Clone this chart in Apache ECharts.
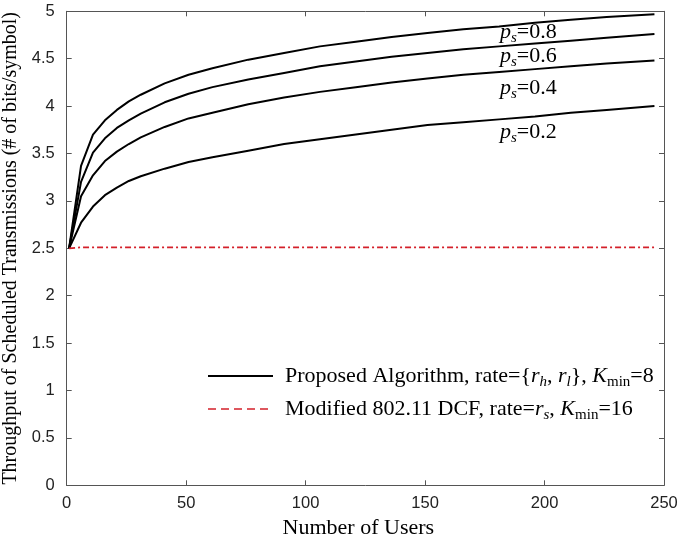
<!DOCTYPE html>
<html>
<head>
<meta charset="utf-8">
<script src="https://cdn.jsdelivr.net/npm/echarts@6/dist/echarts.min.js"></script>
<style>html,body{margin:0;padding:0;background:#fff}#c{width:682px;height:535px}</style>
</head>
<body>
<div id="c"></div>
<script>
// x positions (number of users) at which curves were read
var users = [1, 6, 11, 16, 21, 26, 31, 41, 51, 61, 76, 91, 106, 121, 136, 151, 166, 181, 196, 211, 226, 246];
var ps08 = [2.5, 3.37, 3.70, 3.85, 3.96, 4.05, 4.12, 4.24, 4.33, 4.40, 4.49, 4.56, 4.63, 4.68, 4.73, 4.77, 4.81, 4.84, 4.88, 4.91, 4.94, 4.97];
var ps06 = [2.5, 3.20, 3.51, 3.66, 3.77, 3.85, 3.92, 4.04, 4.13, 4.20, 4.28, 4.35, 4.42, 4.47, 4.52, 4.56, 4.60, 4.63, 4.66, 4.69, 4.72, 4.76];
var ps04 = [2.5, 3.05, 3.27, 3.42, 3.52, 3.60, 3.67, 3.78, 3.87, 3.93, 4.02, 4.09, 4.15, 4.20, 4.25, 4.29, 4.33, 4.36, 4.39, 4.42, 4.45, 4.48];
var ps02 = [2.5, 2.77, 2.94, 3.06, 3.14, 3.21, 3.26, 3.34, 3.41, 3.46, 3.53, 3.60, 3.65, 3.70, 3.75, 3.80, 3.83, 3.86, 3.89, 3.93, 3.96, 4.00];
var dcf = [2.5, 2.51, 2.51, 2.51, 2.51, 2.51, 2.51, 2.51, 2.51, 2.51, 2.51, 2.51, 2.51, 2.51, 2.51, 2.51, 2.51, 2.51, 2.51, 2.51, 2.51, 2.51];
var psLabels = ['0.8', '0.6', '0.4', '0.2'];
var xTicks = {min: 0, max: 250, interval: 50};
var yTicks = {min: 0, max: 5, interval: 0.5};

function pairs(ys) { return users.map(function (u, i) { return [u, ys[i]]; }); }

var serif = 'Liberation Serif';
var sans = 'Liberation Sans';
var axisCol = '#555';
var red = '#d4202a';

var rich = {
  i: {fontFamily: serif, fontSize: 22, fontStyle: 'italic', lineHeight: 26, color: '#000'},
  n: {fontFamily: serif, fontSize: 22, lineHeight: 26, color: '#000'},
  si: {fontFamily: serif, fontSize: 15, fontStyle: 'italic', lineHeight: 14, padding: [12, 0, 0, 0], color: '#000'},
  sn: {fontFamily: serif, fontSize: 15, lineHeight: 14, padding: [12, 0, 0, 0], color: '#000'}
};

function txt(x, y, t) {
  return {type: 'text', left: x, top: y, style: {text: t, rich: rich, font: '22px "Liberation Serif"', fill: '#000'}, z: 10};
}

var psY = [19, 43, 75, 119];
var graphics = [];
psLabels.forEach(function (l, i) {
  graphics.push(txt(500, psY[i], '{i|p}{si|s}{n|=' + l + '}'));
});
graphics.push({type: 'line', shape: {x1: 208, y1: 376, x2: 273, y2: 376}, style: {stroke: '#000', lineWidth: 2}, z: 10});
graphics.push({type: 'line', shape: {x1: 208, y1: 409, x2: 273, y2: 409}, style: {stroke: red, lineWidth: 1.6, lineDash: [8, 5]}, z: 10});
graphics.push(txt(285, 363, '{n|Proposed Algorithm, rate={}{i|r}{si|h}{n|, }{i|r}{si|l}}, {i|K}{sn|min}{n|=8}'));
graphics.push(txt(285, 396, '{n|Modified 802.11 DCF, rate=}{i|r}{si|s}{n|, }{i|K}{sn|min}{n|=16}'));

var blackLine = {color: '#000', width: 2};
function curve(name, ys) {
  return {name: name, type: 'line', data: pairs(ys), symbol: 'none', lineStyle: blackLine, itemStyle: {color: '#000'}};
}

var chart = echarts.init(document.getElementById('c'));
chart.setOption({
  backgroundColor: '#fff',
  animation: false,
  grid: {left: 66.7, right: 18, top: 11.3, bottom: 49.7, containLabel: false, outerBoundsMode: 'none'},
  xAxis: [
    {type: 'value', min: xTicks.min, max: xTicks.max, interval: xTicks.interval,
     name: 'Number of Users', nameLocation: 'middle', nameGap: 21,
     nameTextStyle: {fontFamily: serif, fontSize: 22, color: '#000', padding: [0, 14, 0, 0]},
     axisLine: {onZero: false, lineStyle: {color: axisCol}}, axisTick: {inside: true, length: 5, lineStyle: {color: axisCol}},
     axisLabel: {fontFamily: sans, fontSize: 16.5, color: '#222', margin: 10}, splitLine: {show: false}},
    {type: 'value', position: 'top', min: xTicks.min, max: xTicks.max, interval: xTicks.interval,
     axisLine: {show: true, onZero: false, lineStyle: {color: axisCol}}, axisTick: {show: true, inside: true, length: 5, lineStyle: {color: axisCol}},
     axisLabel: {show: false}, splitLine: {show: false}}
  ],
  yAxis: [
    {type: 'value', min: yTicks.min, max: yTicks.max, interval: yTicks.interval,
     name: 'Throughput of Scheduled Transmissions (# of bits/symbol)', nameLocation: 'middle', nameGap: 38,
     nameTextStyle: {fontFamily: serif, fontSize: 20, color: '#000'},
     axisLine: {show: true, onZero: false, lineStyle: {color: axisCol}}, axisTick: {show: true, inside: true, length: 5, lineStyle: {color: axisCol}},
     axisLabel: {fontFamily: sans, fontSize: 16.5, color: '#222', margin: 12}, splitLine: {show: false}},
    {type: 'value', position: 'right', min: yTicks.min, max: yTicks.max, interval: yTicks.interval,
     axisLine: {show: true, onZero: false, lineStyle: {color: axisCol}}, axisTick: {show: true, inside: true, length: 5, lineStyle: {color: axisCol}},
     axisLabel: {show: false}, splitLine: {show: false}}
  ],
  series: [
    curve('ps=0.8', ps08),
    curve('ps=0.6', ps06),
    curve('ps=0.4', ps04),
    curve('ps=0.2', ps02),
    {name: 'Modified 802.11 DCF', type: 'line', data: pairs(dcf), symbol: 'none',
     lineStyle: {color: red, width: 1.8, type: [6, 3, 2, 3]}, itemStyle: {color: red}, z: 3},
    {name: 'frame', type: 'line', xAxisIndex: 1, yAxisIndex: 1, data: [], symbol: 'none', silent: true}
  ],
  graphic: graphics
});
</script>
</body>
</html>
